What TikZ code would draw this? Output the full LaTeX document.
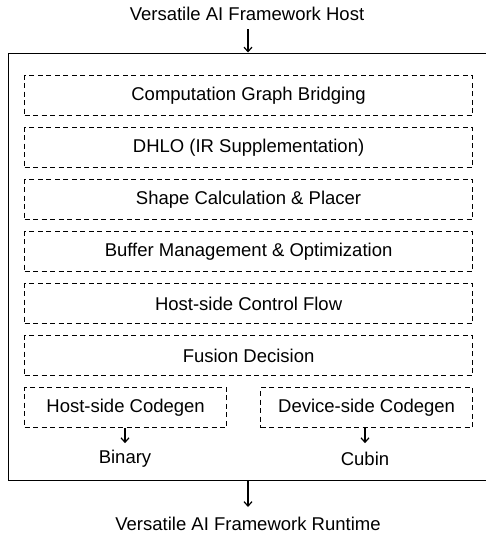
\documentclass[tikz,border=0pt]{standalone}
\usepackage{fontspec}
\setmainfont{Liberation Sans}
\usetikzlibrary{arrows.meta}
\begin{document}
\begin{tikzpicture}[x=1pt,y=-1pt,
  every node/.style={font=\fontsize{18.5}{22}\selectfont, inner sep=0pt},
  dbox/.style={draw, line width=1.2pt, dash pattern=on 5pt off 3.5pt},
  conn/.style={line width=1.2pt, -{Straight Barb[length=4.5pt,width=8pt,line width=1.2pt]}},
  lbl/.style={anchor=center}]
\useasboundingbox (0,0) rectangle (486,533);
\clip (0,0) rectangle (486,533);
% outer box
\node[draw, line width=1.4pt, minimum width=500pt, minimum height=427.5pt, anchor=north west] (outer) at (8,52.5) {};
% titles
\node[lbl] (host) at (247,14) {Versatile AI Framework Host};
\node[lbl] (runtime) at (248,524) {Versatile AI Framework Runtime};
% layer boxes
\foreach \t/\y/\nm in {Computation Graph Bridging/75/b1,
  DHLO (IR Supplementation)/127/b2,
  Shape Calculation \& Placer/179/b3,
  Buffer Management \& Optimization/231/b4,
  Host-side Control Flow/283/b5,
  Fusion Decision/335/b6}{
  \node[dbox, minimum width=448pt, minimum height=40pt, anchor=north west] (\nm) at (24,\y) {\t};
}
\node[dbox, minimum width=202pt, minimum height=40pt, anchor=north west] (hc) at (24,387) {Host-side Codegen};
\node[dbox, minimum width=212pt, minimum height=40pt, anchor=north west] (dc) at (260,387) {Device-side Codegen};
\node[lbl] (bin) at (125,458.5) {Binary};
\node[lbl] (cub) at (365,458.5) {Cubin};
\coordinate (tin) at (248,29);
\coordinate (tout) at (248,52.5);
\draw[conn] (tin) -- (tout);
\coordinate (bin1) at (248,480);
\coordinate (bin2) at (248,507);
\draw[conn] (bin1) -- (bin2);
\draw[conn] (hc.south -| bin) -- ++(0,15);
\draw[conn] (dc.south -| cub) -- ++(0,15);
\end{tikzpicture}
\end{document}
